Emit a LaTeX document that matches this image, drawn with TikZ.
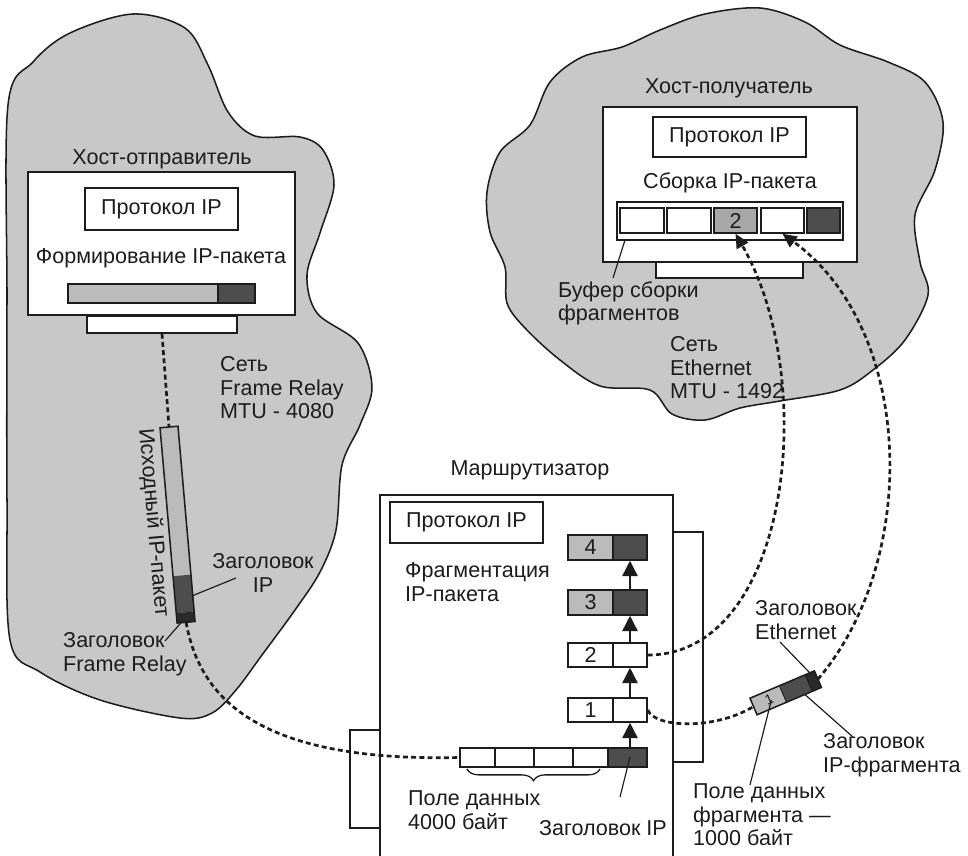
\documentclass[tikz,border=0pt]{standalone}
\usepackage{fontspec}
\setmainfont{Liberation Sans}
\usetikzlibrary{arrows.meta,decorations.pathreplacing,fit,calc}
\definecolor{cloudfill}{HTML}{C8C8C8}
\definecolor{lightpk}{HTML}{BBBBBB}
\definecolor{midpk}{HTML}{A8A8A8}
\definecolor{darkpk}{HTML}{4D4D4D}
\definecolor{darkerpk}{HTML}{2A2A2A}
\definecolor{ink}{HTML}{1C1C1C}
\begin{document}
\begin{tikzpicture}[x=0.03cm,y=-0.03cm,
  every node/.style={font=\fontsize{18.4}{20}\selectfont, text=ink, inner sep=0pt},
  box/.style={draw=ink, line width=1.3pt, fill=white, inner sep=0pt},
  cellw/.style={box},
  celll/.style={box, fill=lightpk},
  cellm/.style={box, fill=midpk},
  celld/.style={box, fill=darkpk},
  cloudsty/.style={draw=ink, line width=1.3pt, fill=cloudfill},
  dashlink/.style={draw=ink, line width=2.3pt, dash pattern=on 4.2pt off 2.8pt},
  tipped/.style={-{Triangle[length=13pt,width=13pt]}},
  tippedb/.style={-{Triangle[length=12pt,width=11pt]}},
  ptr/.style={draw=ink, line width=1pt},
  lbl/.style={align=left, anchor=west},
  pkline/.style={draw=ink, line width=1.3pt},
]
\useasboundingbox (0,0) rectangle (968,855);
\fill[white] (0,0) rectangle (968,855);

% ---------- clouds ----------
\draw[cloudsty] plot[smooth cycle, tension=0.55] coordinates {
 (10,640) (7,500) (7,300) (8,105) (33,62) (70,33) (133,14) (185,28) (208,65)
 (228,112) (255,136) (300,137) (323,150) (334,185) (320,233) (307,275) (317,313)
 (358,343) (372,387) (360,425) (342,465) (336,530) (320,572) (295,610) (262,655)
 (236,690) (212,713) (180,718) (100,700) (40,672)};
\draw[cloudsty] plot[smooth cycle, tension=0.55] coordinates {
 (505,267) (490,232) (487,192) (500,152) (530,125) (550,82) (582,57) (622,47)
 (660,30) (705,14) (760,8) (805,22) (840,45) (888,62) (925,82) (943,122)
 (935,170) (915,215) (920,262) (928,295) (905,340) (873,370) (840,390)
 (780,401) (740,408) (705,420) (672,414) (650,390) (600,386) (560,360)
 (525,328) (507,303)};

% ---------- sender host ----------
\node[box, fit={(87,316)(237,333)}] (sstand) {};
\node[box, fit={(28,172)(295,315)}] (shost) {};
\node[box, fit={(85,188)(238,230)}] (sprotobox) {};
\node (sproto) at (sprotobox) {Протокол IP};
\node (stitle) at (162,159) {Хост-отправитель};
\node (sform) at (161,258) {Формирование IP-пакета};
\node[celll, fit={(68,284)(218,303)}] (sbar) {};
\node[celld, fit={(218,284)(255,303)}] (sbarh) {};

% ---------- original packet (vertical) ----------
\begin{scope}[shift={(169,427)}, rotate=-85]
  \fill[lightpk] (0,-9) rectangle (149,9);
  \fill[darkpk] (149,-9) rectangle (186,9);
  \fill[darkerpk] (186,-9) rectangle (196,9);
  \draw[pkline] (0,-9) rectangle (196,9);
  \coordinate (vtop) at (0,0);
  \coordinate (vbot) at (196,0);
  \coordinate (vip) at (170,-9);
  \coordinate (vfr) at (195,4);
  \node[rotate=-85] (vlabel) at (94,24) {Исходный IP-пакет};
\end{scope}
\draw[dashlink] (sstand.south) -- (vtop);

\node[lbl] (frnet) at (220,388) {Сеть\\Frame Relay\\MTU - 4080};
\node[align=center] (iphdrlbl) at (263,573) {Заголовок\\IP};
\coordinate (iphdrptr) at (236,578);
\draw[ptr] (iphdrptr) -- (vip);
\node[lbl] (frhdr) at (63,654) {Заголовок\\Frame Relay};
\coordinate (frptr) at (165,641);
\draw[ptr] (frptr) -- (vfr);

% ---------- router ----------
\node[box, fit={(380,495)(673,875)}] (router) {};
\node[box, fit={(350,730)(380,828)}] (lport) {};
\node[box, fit={(673,532)(703,762)}] (rport) {};
\node (rtitle) at (530,470) {Маршрутизатор};
\node[box, fit={(390,502)(543,543)}] (rprotobox) {};
\node (rproto) at (rprotobox) {Протокол IP};
\node[lbl] (rfrag) at (405,582) {Фрагментация\\IP-пакета};

\node[celll, fit={(568,535)(613,560)}] (f4d) {};
\node[celld, fit={(613,535)(647,560)}] (f4h) {};
\node (f4t) at (f4d) {4};
\node[celll, fit={(568,590)(613,615)}] (f3d) {};
\node[celld, fit={(613,590)(647,615)}] (f3h) {};
\node (f3t) at (f3d) {3};
\node[cellw, fit={(568,643)(613,667)}] (f2d) {};
\node[cellw, fit={(613,643)(647,667)}] (f2h) {};
\node (f2t) at (f2d) {2};
\node[cellw, fit={(568,698)(613,722)}] (f1d) {};
\node[cellw, fit={(613,698)(647,722)}] (f1h) {};
\node (f1t) at (f1d) {1};

\node[cellw, fit={(460,748)(495,767)}] (b1) {};
\node[cellw, fit={(495,748)(534,767)}] (b2) {};
\node[cellw, fit={(534,748)(573,767)}] (b3) {};
\node[cellw, fit={(573,748)(608,767)}] (b4) {};
\node[celld, fit={(608,748)(647,767)}] (bh) {};

\draw[ink, line width=1.2pt, tipped] (f1h.south |- bh.north) -- (f1h.south);
\draw[ink, line width=1.2pt, tipped] (f1h.north) -- (f2h.south);
\draw[ink, line width=1.2pt, tipped] (f2h.north) -- (f3h.south);
\draw[ink, line width=1.2pt, tipped] (f3h.north) -- (f4h.south);

\draw[ink, line width=1.1pt, decorate, decoration={brace, amplitude=10pt}] (600,769) -- (467,769);
\node[lbl] (data4000) at (408,810) {Поле данных\\4000 байт};
\node (riphdr) at (603,828) {Заголовок IP};
\coordinate (riphdrptr) at (620,797);
\draw[ptr] (riphdrptr) -- (630,757);

% ---------- receiver host ----------
\node[box, fit={(656,262)(803,278)}] (rstand) {};
\node[box, fit={(603,107)(857,262)}] (rhost) {};
\node[box, fit={(653,117)(806,157)}] (rprotobox2) {};
\node (rproto2) at (rprotobox2) {Протокол IP};
\node (rtitle2) at (729,88) {Хост-получатель};
\node (rasm) at (730,183) {Сборка IP-пакета};
\node[box, fit={(617,202)(843,240)}] (buf) {};
\node[cellw, fit={(620,208)(664,233)}] (c1) {};
\node[cellw, fit={(667,208)(711,233)}] (c2) {};
\node[cellm, fit={(714,208)(757,233)}] (c3) {};
\node (c3t) at (c3) {2};
\node[cellw, fit={(761,208)(804,233)}] (c4) {};
\node[celld, fit={(807,208)(840,233)}] (c5) {};
\node[lbl] (buflbl) at (558,303.5) {Буфер сборки\\фрагментов};
\coordinate (bufptr) at (613,278);
\draw[ptr] (bufptr) -- (625,240);
\node[lbl] (ethnet) at (670,368) {Сеть\\Ethernet\\MTU - 1492};

% ---------- Ethernet frame ----------
\begin{scope}[shift={(753.5,706.5)}, rotate=23]
  \fill[lightpk] (0,-9) rectangle (32,9);
  \fill[darkpk] (32,-9) rectangle (60,9);
  \fill[darkerpk] (60,-9) rectangle (70,9);
  \draw[pkline] (0,-9) rectangle (70,9);
  \draw[ink, line width=0.8pt] (32,-9) -- (32,9) (60,-9) -- (60,9);
  \node[rotate=23, font=\fontsize{12}{13}\selectfont] (etht) at (17,0) {1};
  \coordinate (ethL) at (0,0);
  \coordinate (ethR) at (70,0);
  \coordinate (ethdata) at (19,1);
  \coordinate (ethiph) at (52,9);
  \coordinate (ethhdr) at (65,-9);
\end{scope}
\node[lbl] (ethhdrlbl) at (755,620) {Заголовок\\Ethernet};
\node[lbl] (iphfrag) at (823,755) {Заголовок\\IP-фрагмента};
\node[lbl] (fragdata) at (693,815) {Поле данных\\фрагмента —\\1000 байт};
\coordinate (ethhdrptr) at (780,642);
\coordinate (iphfragptr) at (853,737);
\coordinate (fragdataptr) at (750,785);
\draw[ptr] (ethhdrptr) -- (ethhdr);
\draw[ptr] (iphfragptr) -- (ethiph);
\draw[ptr] (fragdataptr) -- (ethdata);

% ---------- dashed paths ----------
\draw[dashlink] (vbot) .. controls (200,700) and (260,762) .. (b1.west);
\draw[dashlink, tippedb] (f2h.east) .. controls (790,655) and (820,380) .. (c3.south);
\draw[dashlink] (f1h.east) .. controls (655,728) and (715,730) .. (ethL);
\draw[dashlink, tippedb] (ethR) .. controls (920,560) and (915,330) .. (c4.south);
\end{tikzpicture}
\end{document}
